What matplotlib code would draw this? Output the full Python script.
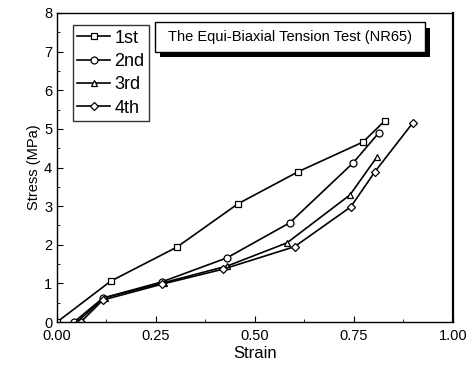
import matplotlib
matplotlib.use("Agg")
import matplotlib.pyplot as plt
from matplotlib.ticker import MultipleLocator
from matplotlib.lines import Line2D
from matplotlib.patches import Rectangle

# Data
strain_1st = [0.0, 0.136, 0.303, 0.457, 0.609, 0.773, 0.828]
stress_1st = [0.0, 1.06, 1.94, 3.06, 3.89, 4.66, 5.21]

strain_2nd = [0.043, 0.116, 0.265, 0.429, 0.588, 0.748, 0.813]
stress_2nd = [0.0, 0.62, 1.04, 1.66, 2.57, 4.12, 4.90]

strain_3rd = [0.05, 0.12, 0.27, 0.43, 0.581, 0.740, 0.808]
stress_3rd = [0.0, 0.63, 1.02, 1.45, 2.05, 3.29, 4.27]

strain_4th = [0.06, 0.116, 0.265, 0.42, 0.60, 0.742, 0.803, 0.899]
stress_4th = [0.0, 0.57, 0.98, 1.37, 1.95, 2.98, 3.89, 5.16]

labels = ["1st", "2nd", "3rd", "4th"]
markers = ["s", "o", "^", "D"]
title_text = "The Equi-Biaxial Tension Test (NR65)"

plt.rcParams['font.family'] = ['Liberation Sans', 'DejaVu Sans']

fig = plt.figure(figsize=(4.73, 3.71), dpi=100)
ax = fig.add_axes([0.1205, 0.132, 0.837, 0.833])

series = [(strain_1st, stress_1st), (strain_2nd, stress_2nd),
          (strain_3rd, stress_3rd), (strain_4th, stress_4th)]
handles = []
for (xs, ys), lab, mk in zip(series, labels, markers):
    ms = 5 if mk != "D" else 4.5
    ax.plot(xs, ys, color="black", lw=1.2, marker=mk, ms=ms,
            mfc="white", mec="black", mew=0.9)
    handles.append(Line2D([], [], color="black", lw=1.2, marker=mk, ms=ms,
                          mfc="white", mec="black", mew=0.9, label=lab))

ax.set_xlim(0, 1.0)
ax.set_ylim(0, 8)
ax.xaxis.set_minor_locator(MultipleLocator(0.125))
ax.yaxis.set_major_locator(MultipleLocator(1))
ax.yaxis.set_minor_locator(MultipleLocator(0.5))
ax.set_xticks([0, 0.25, 0.5, 0.75, 1.0])
ax.set_xticklabels(["0.00", "0.25", "0.50", "0.75", "1.00"])
ax.tick_params(which="both", direction="in", top=False, right=False,
               labelsize=10.5)
ax.tick_params(axis="x", pad=5)
ax.tick_params(which="major", length=4)
ax.tick_params(which="minor", length=2)
ax.set_xlabel("Strain", fontsize=12, labelpad=2)
ax.set_ylabel("Stress (MPa)", fontsize=10.5, labelpad=2)
for sp in ax.spines.values():
    sp.set_linewidth(1.0)
ax.spines["right"].set_linewidth(1.6)

leg = ax.legend(handles=handles, loc="upper left", bbox_to_anchor=(0.040, 0.961),
                fontsize=13, frameon=True, fancybox=False, handlelength=1.8,
                handletextpad=0.25, borderpad=0.25, labelspacing=0.35,
                borderaxespad=0)
leg.get_frame().set_edgecolor("black")
leg.get_frame().set_linewidth(1.0)

# title box with shadow
x0, x1, y0, y1 = 0.247, 0.929, 0.874, 0.971
ax.add_patch(Rectangle((x0 + 0.012, y0 - 0.018), x1 - x0, y1 - y0,
                       transform=ax.transAxes, fc="black", ec="none", zorder=4))
ax.add_patch(Rectangle((x0, y0), x1 - x0, y1 - y0, transform=ax.transAxes,
                       fc="white", ec="black", lw=1.0, zorder=5))
ax.text((x0 + x1) / 2, (y0 + y1) / 2, title_text, transform=ax.transAxes,
        ha="center", va="center", fontsize=10.5, zorder=6)

fig.savefig("out.png", dpi=100)
